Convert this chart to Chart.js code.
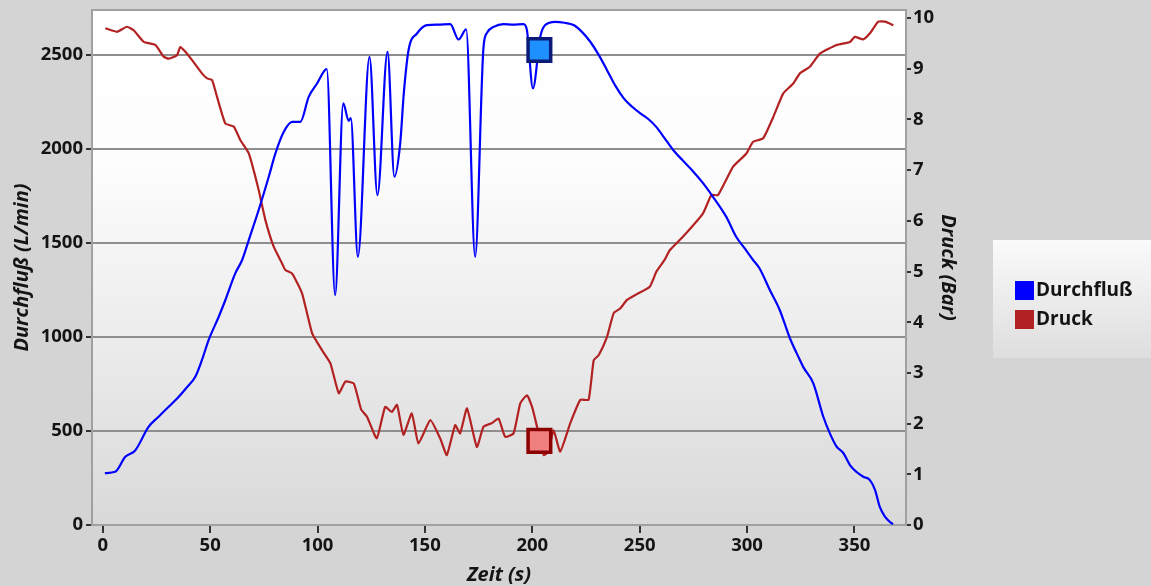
<!DOCTYPE html>
<html lang="de">
<head>
  <meta charset="UTF-8" />
  <title>Durchfluß / Druck</title>
  <script src="https://cdn.jsdelivr.net/npm/chart.js"></script>
  <style>
    html, body { margin: 0; padding: 0; background: #d4d4d4; }
    #wrap { width: 1151px; height: 586px; }
  </style>
</head>
<body>
  <div id="wrap"><canvas id="flowChart" width="1151" height="586"></canvas></div>

  <script>
    // Durchfluß (L/min) over time
    const flowTime = [1, 5.8, 10.5, 15, 21.4, 26, 30.7, 35.4, 39, 43.1, 46.2, 49.3, 54, 57.1, 61.7, 64.9, 68, 72.6, 77.3, 80.4, 84.3, 88.2, 92, 95.9, 99.8, 104.3,
      108.2, 112, 114.5, 115.5, 118.8, 124.2, 127.9, 132.6, 135.8, 138.5, 140.2, 142.4, 146.3, 150.9, 156, 161.8, 165.7, 169.2, 173.4, 177.3, 179, 182,
      186.6, 191, 195.9, 197.5, 200.3, 203.7, 206, 210.7, 215, 219.2, 223, 227, 231, 234.8, 238.5, 242.6, 246.5, 250.3, 254, 257.8, 261.5, 265.6,
      270, 275, 279.5, 284.2, 290.4, 295, 299, 302.8, 305.7, 310.6, 315.2, 319.9, 324.6, 326.2, 330.8, 335.5, 338.5, 341.7, 344.8, 347.9, 351,
      354.1, 357.2, 359.6, 361.8, 364.2, 366.5, 368];
    const flowValues = [276, 283, 363, 395, 523, 576, 629, 682, 730, 789, 878, 984, 1108, 1197, 1339, 1410, 1516, 1676, 1853, 1977, 2092, 2145, 2145, 2278, 2349, 2425,
      1223, 2243, 2150, 2165, 1427, 2491, 1755, 2518, 1853, 2030, 2300, 2527, 2615, 2660, 2662, 2665, 2583, 2637, 1427, 2544, 2620, 2650,
      2665, 2662, 2665, 2633, 2323, 2597, 2660, 2677, 2672, 2660, 2625, 2571, 2500, 2420, 2340, 2270, 2225, 2190, 2160, 2117, 2060, 1995,
      1940, 1880, 1819, 1745, 1638, 1532, 1470, 1410, 1367, 1250, 1144, 995, 878, 840, 755, 576, 489, 417, 383, 319, 282,
      257, 239, 186, 96, 44, 16, 5];

    // Druck (Bar) over time
    const pressureTime = [1.2, 6.6, 11.3, 14.4, 19.1, 24.5, 28.4, 30.7, 34.6, 36.1, 38.4, 41.6, 46.2, 48.6, 50.9, 53.2, 57.1, 61, 64.1, 68, 72.6, 75.7,
      79.6, 83.5, 85, 88.2, 92.8, 97.5, 102.1, 106, 109.9, 113, 116.9, 120.3, 123, 127.6, 131.5, 134.6, 137, 140, 143.9, 147, 152.5, 157.1, 160.2,
      164.1, 166.4, 169.6, 174.2, 177.3, 181.2, 184.3, 187.4, 191.3, 194.4, 197.5, 199.9, 202.2, 205.3, 207.5, 209.9, 213, 217.7, 222.4, 226.2,
      228.6, 230.9, 234.8, 237.9, 240.9, 244.1, 248.5, 254.7, 257.8, 261.6, 264, 270.2, 279.5, 283.4, 286.5, 293.5, 299.7, 302.8, 307.5, 312.2,
      316.8, 321.5, 324.6, 329.2, 333.9, 341.7, 347.9, 350.2, 354.1, 357.2, 361.1, 364.2, 368.1];
    const pressureValues = [9.80, 9.73, 9.83, 9.76, 9.53, 9.47, 9.24, 9.20, 9.27, 9.43, 9.34, 9.17, 8.91, 8.81, 8.78, 8.45, 7.92, 7.86, 7.59, 7.33, 6.61, 6.02,
      5.49, 5.16, 5.03, 4.96, 4.57, 3.78, 3.45, 3.19, 2.60, 2.83, 2.79, 2.28, 2.14, 1.71, 2.33, 2.23, 2.37, 1.78, 2.20, 1.61, 2.07, 1.71, 1.38,
      1.97, 1.81, 2.30, 1.54, 1.94, 2.01, 2.10, 1.74, 1.81, 2.40, 2.56, 2.33, 1.94, 1.38, 1.45, 1.87, 1.45, 2.01, 2.47, 2.47,
      3.25, 3.35, 3.71, 4.18, 4.27, 4.44, 4.55, 4.70, 5.00, 5.23, 5.42, 5.69, 6.15, 6.51, 6.51, 7.07, 7.33, 7.56, 7.63, 8.05,
      8.51, 8.71, 8.91, 9.04, 9.30, 9.47, 9.53, 9.63, 9.58, 9.70, 9.93, 9.93, 9.86];

    // cursor markers
    const markerTime = [203.3];
    const flowMarker = [2527];
    const pressureMarker = [1.66];

    // tick labels
    const xTicks = [0, 50, 100, 150, 200, 250, 300, 350];
    const flowTicks = [0, 500, 1000, 1500, 2000, 2500];
    const pressureTicks = [0, 1, 2, 3, 4, 5, 6, 7, 8, 9, 10];

    const toPoints = (xs, ys) => xs.map((x, i) => ({ x: x, y: ys[i] }));
    const fixedTicks = list => scale => { scale.ticks = list.map(v => ({ value: v })); };
    const fixWidth = w => scale => { scale.width = w; scale.paddingTop = 10; };

    const textColor = "#141414";
    const tickFont = { family: "Open Sans", size: 18.5, weight: "bold" };
    const titleFont = { family: "Open Sans", size: 20, weight: "bold", style: "italic", lineHeight: 1.1 };

    const plotBackground = {
      id: "plotBackground",
      beforeDraw(chart) {
        const { ctx, chartArea: a, width, height } = chart;
        ctx.save();
        ctx.fillStyle = "#d4d4d4";
        ctx.fillRect(0, 0, width, height);
        const g = ctx.createLinearGradient(0, a.top, 0, a.bottom);
        g.addColorStop(0, "#ffffff");
        g.addColorStop(0.3, "#fdfdfd");
        g.addColorStop(1, "#d9d9d9");
        ctx.fillStyle = g;
        ctx.fillRect(a.left, a.top, a.right - a.left, a.bottom - a.top);
        ctx.restore();
      },
      beforeDatasetsDraw(chart) {
        const { ctx, chartArea: a } = chart;
        ctx.save();
        ctx.strokeStyle = "#a0a0a0";
        ctx.lineWidth = 2;
        ctx.strokeRect(a.left, a.top, a.right - a.left, a.bottom - a.top);
        ctx.restore();
      }
    };

    const legendBox = {
      id: "legendBox",
      afterDraw(chart) {
        const { ctx, chartArea: a } = chart;
        const x = a.right + 87, y = 240, w = 170, h = 118;
        const g = ctx.createLinearGradient(0, y, 0, y + h);
        g.addColorStop(0, "#fafafa");
        g.addColorStop(1, "#dedede");
        ctx.save();
        ctx.fillStyle = g;
        ctx.fillRect(x, y, w, h);
        ctx.font = "bold 19px 'Open Sans'";
        ctx.textBaseline = "middle";
        chart.data.datasets.filter(d => d.inLegend).forEach((d, i) => {
          const iy = 281 + i * 29;
          ctx.fillStyle = d.borderColor;
          ctx.fillRect(x + 22, iy, 19, 19);
          ctx.fillStyle = textColor;
          ctx.fillText(d.label, x + 43, iy + 10);
        });
        ctx.restore();
      }
    };

    const ctx = document.getElementById("flowChart").getContext("2d");
    const chart = new Chart(ctx, {
      type: "line",
      data: {
        datasets: [
          {
            label: "flowMarker",
            data: toPoints(markerTime, flowMarker),
            yAxisID: "y",
            showLine: false,
            pointStyle: "rect",
            pointRadius: 16,
            pointBorderWidth: 3.5,
            pointBackgroundColor: "#1e90ff",
            pointBorderColor: "#0c1a78",
            order: -1
          },
          {
            label: "pressureMarker",
            data: toPoints(markerTime, pressureMarker),
            yAxisID: "y1",
            showLine: false,
            pointStyle: "rect",
            pointRadius: 16,
            pointBorderWidth: 3.5,
            pointBackgroundColor: "#f08080",
            pointBorderColor: "#8b0000",
            order: -1
          },
          {
            label: "Durchfluß",
            inLegend: true,
            data: toPoints(flowTime, flowValues),
            yAxisID: "y",
            borderColor: "#0000ff",
            borderWidth: 2.2,
            pointRadius: 0,
            cubicInterpolationMode: "monotone"
          },
          {
            label: "Druck",
            inLegend: true,
            data: toPoints(pressureTime, pressureValues),
            yAxisID: "y1",
            borderColor: "#b22222",
            borderWidth: 2.2,
            pointRadius: 0,
            tension: 0.15
          }
        ]
      },
      options: {
        responsive: false,
        animation: false,
        layout: { autoPadding: false, padding: { top: 0, right: 175, left: 0, bottom: 0 } },
        plugins: { legend: { display: false }, tooltip: { enabled: false } },
        scales: {
          x: {
            type: "linear",
            min: -5,
            max: 374,
            afterFit: s => { s.height = 61; },
            afterBuildTicks: fixedTicks(xTicks),
            ticks: { font: tickFont, color: textColor, padding: 2, maxRotation: 0 },
            grid: { drawOnChartArea: false, tickLength: 8, color: "#333", lineWidth: 2 },
            border: { color: "#a0a0a0", width: 2 },
            title: { display: true, text: "Zeit (s)", font: titleFont, color: textColor, padding: { top: 0, bottom: 0 } }
          },
          y: {
            position: "left",
            min: 0,
            max: 2740,
            afterFit: fixWidth(92),
            afterBuildTicks: fixedTicks(flowTicks),
            ticks: { font: tickFont, color: textColor, padding: 3, callback: v => v },
            grid: { color: "#8e8e8e", lineWidth: 2, tickColor: "#333", tickWidth: 2, tickLength: 6 },
            border: { color: "#a0a0a0", width: 2 },
            title: { display: true, text: "Durchfluß (L/min)", font: titleFont, color: textColor, padding: { top: 11, bottom: 0 } }
          },
          y1: {
            position: "right",
            min: 0,
            max: 10.16,
            afterFit: fixWidth(70),
            afterBuildTicks: fixedTicks(pressureTicks),
            ticks: { font: tickFont, color: textColor, padding: 2, callback: v => v },
            grid: { drawOnChartArea: false, color: "#333", lineWidth: 2, tickLength: 5 },
            border: { color: "#a0a0a0", width: 2 },
            title: { display: true, text: "Druck (Bar)", font: titleFont, color: textColor, padding: { top: 17, bottom: 0 } }
          }
        }
      },
      plugins: [plotBackground, legendBox]
    });
  </script>
</body>
</html>
